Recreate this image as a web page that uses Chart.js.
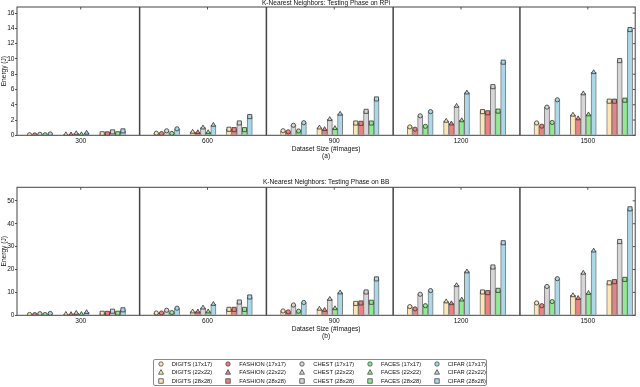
<!DOCTYPE html>
<html>
<head>
<meta charset="utf-8">
<script src="https://cdn.jsdelivr.net/npm/chart.js@4/dist/chart.umd.min.js"></script>
<style>
  body { margin: 0; background: #fff; width: 640px; height: 387px; position: relative; overflow: hidden; }
  canvas { display: block; }
  #legend {
    position: absolute; left: 153px; top: 359px; width: 334px; height: 27px;
    box-sizing: border-box; border: 1px solid #8a8a8a; border-radius: 2px;
    display: grid; grid-template-columns: 67.6px 74px 67.7px 66.7px auto; grid-auto-rows: 8.3px;
    font: 5.8px 'Liberation Sans', Arial, sans-serif; color: #111;
  }
  #legend div { display: flex; align-items: center; white-space: nowrap; padding-left: 3.7px; }
  #legend svg { margin-right: 8px; flex: none; }
</style>
</head>
<body>
<canvas id="rpi" width="640" height="179"></canvas>
<canvas id="bb" width="640" height="181"></canvas>
<div id="legend"></div>
<script>
// categories
const dataSizes = [300, 600, 900, 1200, 1500];
const imageSizes = ["17x17", "22x22", "28x28"];
const datasetNames = ["DIGITS", "FASHION", "CHEST", "FACES", "CIFAR"];

// values, per dataset: [300: 17,22,28 | 600: ... | 1500: ...]
const rpiDigits  = [0.07, 0.12, 0.2,  0.27, 0.44, 0.79, 0.6,  1.0,  1.61, 1.1,  1.88, 3.1,  1.62, 2.68, 4.47];
const rpiFashion = [0.05, 0.1,  0.18, 0.22, 0.39, 0.74, 0.46, 0.79, 1.57, 0.8,  1.52, 2.95, 1.2,  2.2,  4.47];
const rpiChest   = [0.13, 0.25, 0.45, 0.59, 1.0,  1.62, 1.31, 2.1,  3.14, 2.55, 3.84, 6.37, 3.69, 5.47, 9.78];
const rpiFaces   = [0.07, 0.12, 0.2,  0.24, 0.39, 0.74, 0.57, 0.92, 1.61, 1.18, 1.95, 3.17, 1.68, 2.72, 4.6];
const rpiCifar   = [0.18, 0.32, 0.58, 0.85, 1.35, 2.45, 1.65, 2.8,  4.76, 3.1,  5.58, 9.58, 4.65, 8.25, 13.85];

const bbDigits  = [0.35, 0.55, 0.9, 1.0, 1.6, 2.6, 1.9, 2.8, 5.2,  3.8,  6.0,  10.2, 5.4,  8.7,  14.2];
const bbFashion = [0.3,  0.45, 0.85, 1.0, 1.6, 2.6, 1.5, 2.3, 5.4,  2.8,  5.2,  9.9,  4.2,  7.5,  14.7];
const bbChest   = [0.7,  1.0,  1.8, 2.2, 3.3, 5.8, 4.5, 7.1, 10.2, 9.2,  13.1, 21.1, 12.6, 18.5, 32.2];
const bbFaces   = [0.35, 0.5,  0.9, 1.2, 1.6, 2.6, 1.8, 3.0, 5.7,  4.2,  6.8,  10.9, 6.0,  9.7,  15.7];
const bbCifar   = [0.8,  1.3,  2.4, 3.1, 4.9, 8.0, 5.6, 9.9, 15.9, 10.8, 19.1, 31.7, 16.0, 28.2, 46.5];

const colors = ["#fde6b4", "#f08080", "#d6d6d6", "#8feb8f", "#aad8e8"];
const markers = ["circle", "triangle", "rect"];

// layout of the bar clusters, in x-axis units
const CLUSTER_SHIFT = -10.6;
const CLUSTER_STEP = 86;
const BAR_STEP = 12.26;
const SEPARATOR = 139.4;

Chart.defaults.font.family = "'Liberation Sans', Arial, sans-serif";
Chart.defaults.font.size = 6.6;
Chart.defaults.color = "#111";

function xOf(i, d) {
  const g = Math.floor(i / 3), s = i % 3;
  return dataSizes[g] + CLUSTER_SHIFT + (s - 1) * CLUSTER_STEP + (d - 2) * BAR_STEP;
}

const framePlugin = {
  id: "frame",
  beforeDatasetsDraw(chart) {
    const { ctx, chartArea: a, scales: { x } } = chart;
    ctx.save();
    ctx.strokeStyle = "#444";
    ctx.lineWidth = 1.5;
    dataSizes.slice(0, -1).forEach((v) => {
      const px = x.getPixelForValue(v + SEPARATOR);
      ctx.beginPath();
      ctx.moveTo(px, a.top);
      ctx.lineTo(px, a.bottom);
      ctx.stroke();
    });
    ctx.restore();
  },
  afterDatasetsDraw(chart) {
    const { ctx, chartArea: a, scales: { x, y } } = chart;
    ctx.save();
    ctx.strokeStyle = "#555";
    ctx.lineWidth = 1;
    ctx.beginPath();
    y.ticks.forEach((t) => {
      const py = y.getPixelForValue(t.value);
      ctx.moveTo(a.right, py);
      ctx.lineTo(a.right - 2.5, py);
    });
    dataSizes.forEach((v) => {
      const px = x.getPixelForValue(v);
      ctx.moveTo(px, a.top);
      ctx.lineTo(px, a.top + 2.5);
    });
    ctx.stroke();
    ctx.strokeStyle = "#444";
    ctx.strokeRect(a.left, a.top, a.right - a.left, a.bottom - a.top);
    ctx.restore();
  },
};

function makePanel(id, title, sub, series, yMax, yStep, titleGap, bottomPad) {
  const bars = series.map((vals, d) => ({
    type: "bar",
    label: datasetNames[d],
    data: vals.map((v, i) => ({ x: xOf(i, d), y: v })),
    backgroundColor: colors[d],
    borderColor: "#7a7a7a",
    borderWidth: 1,
    barThickness: 5.2,
    grouped: false,
    order: 1,
  }));
  const dots = series.map((vals, d) => ({
    type: "scatter",
    label: datasetNames[d] + " markers",
    data: vals.map((v, i) => ({ x: xOf(i, d), y: v })),
    pointStyle: (c) => markers[c.dataIndex % 3],
    pointRadius: (c) => [2.1, 2.6, 2.9][c.dataIndex % 3],
    backgroundColor: colors[d],
    borderColor: "#333",
    borderWidth: 0.8,
    order: 0,
  }));

  new Chart(document.getElementById(id), {
    type: "bar",
    data: { datasets: [...bars, ...dots] },
    plugins: [framePlugin],
    options: {
      responsive: false,
      animation: false,
      devicePixelRatio: 1,
      layout: { padding: { top: 0, left: 0, right: 2, bottom: bottomPad } },
      plugins: {
        legend: { display: false },
        tooltip: { enabled: false },
        title: {
          display: true,
          text: title,
          fullSize: false,
          font: { size: 6.6, weight: "normal", lineHeight: 1 },
          padding: { top: 0, bottom: titleGap },
          color: "#111",
        },
      },
      scales: {
        x: {
          type: "linear",
          offset: false,
          min: 149.2,
          max: 1612.2,
          afterBuildTicks: (s) => { s.ticks = dataSizes.map((v) => ({ value: v })); },
          afterFit: (s) => { s.height = 24.2; },
          ticks: { padding: 1.5, autoSkip: false, maxRotation: 0, callback: (v) => String(v) },
          grid: { display: false, drawTicks: false, tickLength: 0, offset: false },
          border: { display: false },
          title: {
            display: true,
            text: ["Dataset Size (#Images)", sub],
            font: { size: 6.6, lineHeight: 1.06 },
            padding: 0,
          },
        },
        y: {
          min: 0,
          max: yMax,
          afterFit: (s) => { s.width = 17; },
          ticks: { stepSize: yStep, includeBounds: false, padding: 0.5 },
          grid: { drawOnChartArea: false, tickLength: 2, color: "#555" },
          border: { display: false },
          title: {
            display: true,
            text: "Energy (J)",
            font: { size: 6.6, lineHeight: 1 },
            padding: { top: 0.4, bottom: 0 },
          },
        },
      },
    },
  });
}

makePanel("rpi", "K-Nearest Neighbors: Testing Phase on RPi", "(a)",
  [rpiDigits, rpiFashion, rpiChest, rpiFaces, rpiCifar], 16.8, 2, 0.4, 19.5);
makePanel("bb", "K-Nearest Neighbors: Testing Phase on BB", "(b)",
  [bbDigits, bbFashion, bbChest, bbFaces, bbCifar], 55.9, 10, 1.7, 20.5);

// legend: one row per image size, one column per dataset
const legend = document.getElementById("legend");
const shapes = {
  circle: '<circle cx="3" cy="3" r="2.2"/>',
  triangle: '<polygon points="3,0.6 5.5,5.2 0.5,5.2"/>',
  rect: '<rect x="0.8" y="0.8" width="4.4" height="4.4"/>',
};
imageSizes.forEach((size, s) => {
  datasetNames.forEach((name, d) => {
    const cell = document.createElement("div");
    cell.innerHTML =
      '<svg width="6" height="6" viewBox="0 0 6 6"><g fill="' + colors[d] +
      '" stroke="#333" stroke-width="0.7">' + shapes[markers[s]] + "</g></svg>" +
      "<span>" + name + " (" + size + ")</span>";
    legend.appendChild(cell);
  });
});
</script>
</body>
</html>
